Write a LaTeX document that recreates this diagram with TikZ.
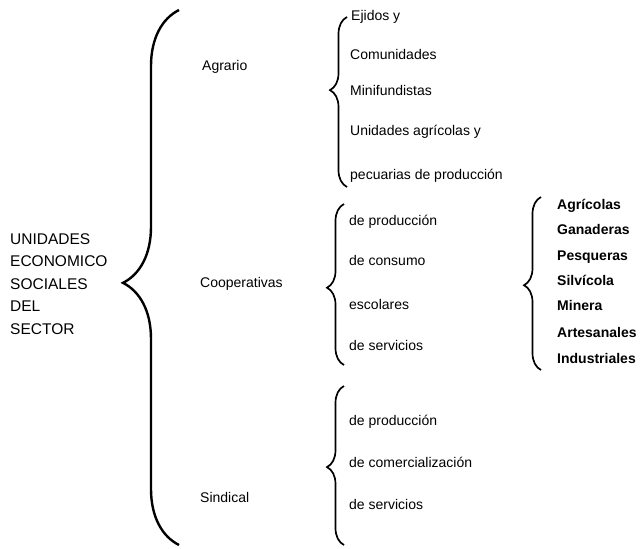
\documentclass[tikz,border=0pt]{standalone}
\usepackage{fontspec}
\setmainfont{Liberation Sans}
\usetikzlibrary{decorations.pathreplacing}

\tikzset{
  bigbrace/.style={decorate, decoration={brace, amplitude=56pt, aspect=#1}, line width=2.4pt},
  smallbrace/.style={decorate, decoration={brace, amplitude=17pt, aspect=#1}, line width=1.7pt},
  headtext/.style={anchor=west, inner sep=0pt, align=left, font=\fontsize{15.5}{22.5}\selectfont},
  item/.style={anchor=mid west, inner sep=0pt, font=\fontsize{14}{16}\selectfont},
  kind/.style={anchor=mid west, inner sep=0pt, font=\fontsize{14}{16}\selectfont\bfseries},
}

\begin{document}
\begin{tikzpicture}[x=1pt,y=-1pt]
        \useasboundingbox (0,0) rectangle (643,549);
        % Sector title
        \node[headtext] (sector) at (10,284) {UNIDADES\\ECONOMICO\\SOCIALES\\DEL\\SECTOR};
        % big brace
        \coordinate (secB) at (179,545);
        \coordinate (secT) at (179,10);
        \draw[bigbrace=0.49] (secB) -- (secT);
        % second level
        \node[item] (agrario) at (202,68) {Agrario};
        \node[item] (coop) at (200,285) {Cooperativas};
        \node[item] (sindical) at (200,500) {Sindical};
        % Agrario
        \coordinate (agrB) at (347,187);
        \coordinate (agrT) at (347,17);
        \draw[smallbrace=0.57] (agrB) -- (agrT);
        \node[item] (ejidos) at (351,18) {Ejidos y};
        \node[item] (comunidades) at (350,57) {Comunidades};
        \node[item] (minifund) at (350,93) {Minifundistas};
        \node[item] (unidades) at (350,133) {Unidades agrícolas y};
        \node[item] (pecuarias) at (350,177) {pecuarias de producción};
        % Cooperativas
        \coordinate (coopB) at (344,365);
        \coordinate (coopT) at (344,204);
        \draw[smallbrace=0.48] (coopB) -- (coopT);
        \node[item] (cprod) at (349,223) {de producción};
        \node[item] (cconsumo) at (349,263) {de consumo};
        \node[item] (cescolares) at (349,307) {escolares};
        \node[item] (cservicios) at (349,348) {de servicios};
        % kinds of production
        \coordinate (kindB) at (541,370);
        \coordinate (kindT) at (541,197);
        \draw[smallbrace=0.49] (kindB) -- (kindT);
        \node[kind] (agricolas) at (557,207) {Agrícolas};
        \node[kind] (ganaderas) at (557,232) {Ganaderas};
        \node[kind] (pesqueras) at (557,258) {Pesqueras};
        \node[kind] (silvicola) at (557,283) {Silvícola};
        \node[kind] (minera) at (557,308) {Minera};
        \node[kind] (artesanales) at (557,335) {Artesanales};
        \node[kind] (industriales) at (557,361) {Industriales};
        % Sindical
        \coordinate (sinB) at (344,545);
        \coordinate (sinT) at (344,386);
        \draw[smallbrace=0.49] (sinB) -- (sinT);
        \node[item] (sprod) at (349,423) {de producción};
        \node[item] (scomerc) at (349,465) {de comercialización};
        \node[item] (sservicios) at (349,507) {de servicios};
      \end{tikzpicture}
\end{document}
